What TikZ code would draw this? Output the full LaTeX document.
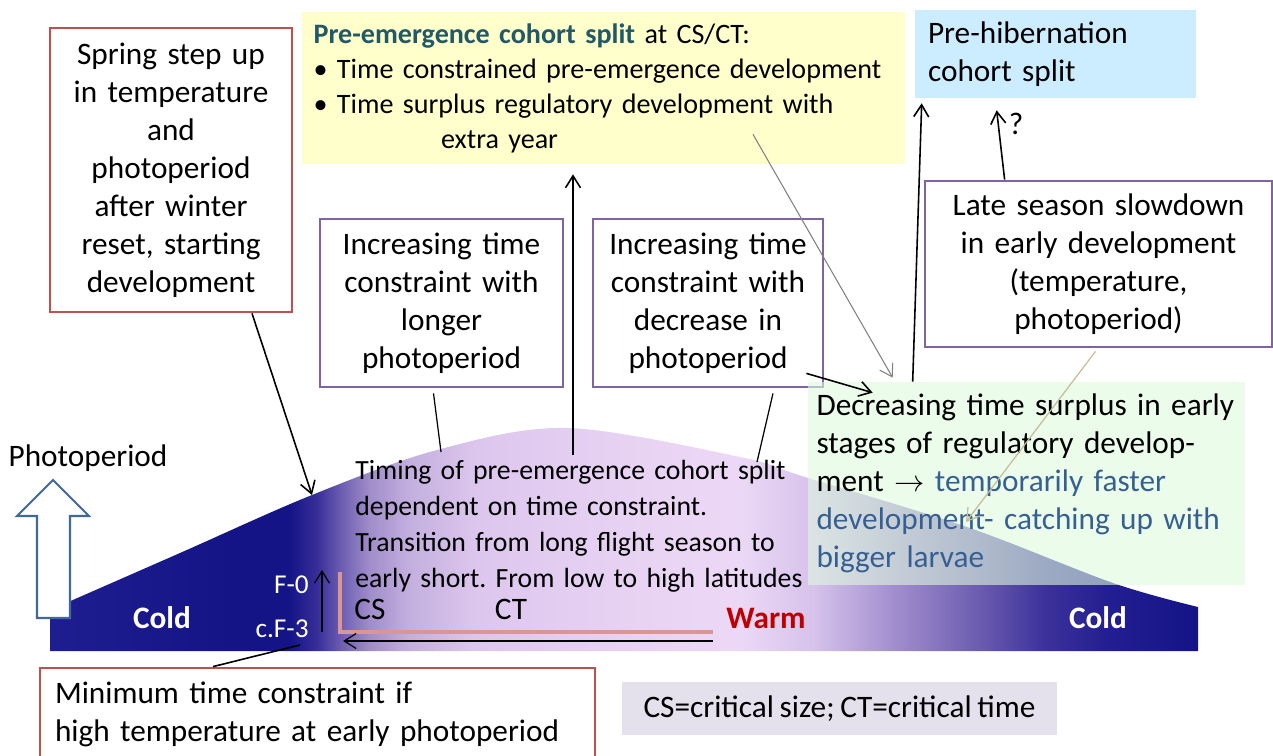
\documentclass[tikz,border=0pt]{standalone}
\usepackage{fontspec}
\setmainfont{Carlito}[WordSpace=0.8]
\usetikzlibrary{arrows.meta}
\frenchspacing

\definecolor{boxred}{RGB}{192,80,77}
\definecolor{boxviolet}{RGB}{128,100,162}
\definecolor{fillyellow}{RGB}{255,255,204}
\definecolor{fillblue}{RGB}{204,236,255}
\definecolor{fillgreen}{RGB}{222,250,222}
\definecolor{fillgray}{RGB}{228,224,236}
\definecolor{tealtext}{RGB}{33,89,104}
\definecolor{bluetext}{RGB}{55,96,146}
\definecolor{warmred}{RGB}{192,0,0}
\definecolor{salmon}{RGB}{218,150,148}
\definecolor{olivetan}{RGB}{196,189,151}
\definecolor{arrowblue}{RGB}{65,105,150}
% season colours, cold -> warm -> cold
\definecolor{night}{RGB}{20,20,135}
\definecolor{nightedge}{RGB}{30,30,145}
\definecolor{deepdusk}{RGB}{55,45,152}
\definecolor{dusk}{RGB}{105,90,175}
\definecolor{twilight}{RGB}{160,140,202}
\definecolor{haze}{RGB}{195,175,222}
\definecolor{lilac}{RGB}{220,198,237}
\definecolor{blush}{RGB}{232,210,243}
\definecolor{summer}{RGB}{236,216,246}
\definecolor{fade}{RGB}{215,195,235}
\definecolor{late}{RGB}{160,140,205}
\definecolor{evening}{RGB}{60,50,155}
\definecolor{dark}{RGB}{35,30,145}

\pgfdeclarehorizontalshading{season}{100bp}{color(0bp)=(nightedge); color(25bp)=(nightedge);
  color(33bp)=(night); color(35.4bp)=(night); color(36.6bp)=(deepdusk); color(37.6bp)=(dusk);
  color(38.9bp)=(twilight); color(40.6bp)=(haze); color(43.5bp)=(lilac); color(50bp)=(blush);
  color(55bp)=(summer); color(58.2bp)=(fade); color(61.9bp)=(late); color(65.6bp)=(dusk);
  color(68.3bp)=(evening); color(71bp)=(dark); color(75bp)=(night); color(100bp)=(night)}

\begin{document}
\begin{tikzpicture}[x=0.02cm, y=-0.02cm, font=\fontsize{17.8}{21.6}\selectfont]
\useasboundingbox (0,0) rectangle (1273,756);
\clip (0,0) rectangle (1273,756);

\tikzset{conn/.style={line width=0.9pt, -{Straight Barb[length=2.4mm, width=3mm]}},
         tie/.style={line width=0.7pt},
         redbox/.style={draw=boxred, line width=1.6pt, fill=white, inner sep=0pt},
         violetbox/.style={draw=boxviolet, line width=1.6pt, fill=white, inner sep=0pt, align=center},
         tintbox/.style={fill=#1, inner sep=0pt, align=left},
         coldlbl/.style={text=white, font=\fontsize{17.8}{21.6}\selectfont\bfseries}}

% ---- season curve (photoperiod), shaded cold-warm-cold
\shade[shading=season] (50,651) -- plot[smooth, tension=0.55] coordinates {(50,610) (180,553) (312,495)
  (437,450) (567,428) (740,457) (805,477) (967,527) (1113,583) (1198,607)} -- (1198,651) -- cycle;

% ---- photoperiod arrow
\draw[arrowblue, line width=1.2pt, fill=white] (37,618) -- (37,516) -- (17,516) -- (53,480)
  -- (89,516) -- (70,516) -- (70,618) -- cycle;
\node (photolbl) at (88,458) {Photoperiod};

% ---- labels on the curve
\node[coldlbl] (coldL) at (162,618) {Cold};
\node[coldlbl] (coldR) at (1098,618) {Cold};
\node[text=warmred, font=\fontsize{17.8}{21.6}\selectfont\bfseries] (warm) at (766,618) {Warm};
\node (cs) at (370,609) {CS};
\node (ct) at (511,609) {CT};
\node[anchor=east, inner sep=0pt, text=white, font=\fontsize{15.5}{18}\selectfont] (f0) at (309,585) {F-0};
\node[anchor=east, inner sep=0pt, text=white, font=\fontsize{15.5}{18}\selectfont] (f3) at (309,629) {c.F-3};
\node[anchor=west, inner sep=0pt, text width=9.2cm, align=left, font=\fontsize{15.8}{20.4}\selectfont] (timing) at (355,526)
  {Timing of pre-emergence cohort split\\dependent on time constraint.\\Transition from long flight season to\\early short. From low to high latitudes};

% CS/CT bracket and time axes
\draw[salmon, line width=2.8pt] (340,572) -- (340,632) -- (713,632);
\coordinate (ctend) at (713,641);
\coordinate (csend) at (343,641);
\draw[conn, line width=0.7pt] (ctend) -- (csend);
\coordinate (f3pt) at (322,632);
\coordinate (f0pt) at (322,570);
\draw[conn, line width=0.7pt] (f3pt) -- (f0pt);

% ---- boxes
\node[redbox, minimum width=4.84cm, minimum height=5.68cm, text width=4.6cm, align=center] (spring) at (171,170)
  {Spring step up\\in temperature\\and\\photoperiod\\after winter\\reset, starting\\development};
\node[tintbox=fillyellow, minimum width=12.06cm, minimum height=3.04cm, text width=11.6cm, font=\fontsize{16}{19.9}\selectfont] (preem) at (603.5,88)
  {\textcolor{tealtext}{\textbf{Pre-emergence cohort split}} at CS/CT:\\
   \textbullet\ Time constrained pre-emergence development\\
   \textbullet\ Time surplus regulatory development with\\
   \hspace*{2.55cm}extra year};
\node[tintbox=fillblue, minimum width=5.62cm, minimum height=1.76cm, text width=5.1cm] (prehib) at (1055.5,54)
  {Pre-hibernation\\cohort split};
\node[violetbox, minimum width=4.86cm, minimum height=3.36cm, text width=4.6cm] (longer) at (441.5,303)
  {Increasing time\\constraint with\\longer\\photoperiod};
\node[violetbox, minimum width=4.6cm, minimum height=3.36cm, text width=4.4cm] (decrease) at (708,303)
  {Increasing time\\constraint with\\decrease in\\photoperiod};
\node[violetbox, minimum width=6.94cm, minimum height=3.32cm, text width=6.6cm] (late) at (1098.5,264)
  {Late season slowdown\\in early development\\(temperature,\\photoperiod)};
\node[tintbox=fillgreen, fill opacity=0.6, text opacity=1, minimum width=8.74cm, minimum height=4.06cm, text width=8.4cm] (surplus) at (1026.5,483.5)
  {Decreasing time surplus in early\\stages of regulatory develop-\\ment $\rightarrow$ {\color{bluetext}temporarily faster\\development- catching up with\\bigger larvae}};
\node[redbox, minimum width=11.1cm, minimum height=1.84cm, text width=10.5cm, align=left] (mintc) at (317.5,714)
  {Minimum time constraint if\\high temperature at early photoperiod};
\node[tintbox=fillgray, minimum width=8.7cm, minimum height=1.06cm, align=center] (legend) at (839.5,708.5)
  {CS=critical size; CT=critical time};

% ---- connectors
\coordinate (pk) at (573,455);
\coordinate (springtip) at (312,495);
\coordinate (longtip) at (441,452);
\coordinate (dectip) at (757,462);
\coordinate (olivetip) at (966,522);
\coordinate (minfoot) at (300,645);
\draw[conn] ([xshift=1.62cm]spring.south) -- (springtip);
\draw[conn, shorten >=0.2cm] (pk) -- (pk |- preem.south);
\draw[tie] ([xshift=-0.16cm,yshift=-0.1cm]longer.south) -- (longtip);
\draw[tie] ([xshift=1.3cm,yshift=-0.1cm]decrease.south) -- (dectip);
\draw[conn] ([xshift=-0.36cm,yshift=0.3cm]decrease.south east) -- ([xshift=1.3cm,yshift=-0.22cm]surplus.north west);
\draw[conn, gray, line width=0.6pt] ([xshift=2.99cm,yshift=0.6cm]preem.south) -- ([xshift=1.7cm,yshift=0.08cm]surplus.north west);
\draw[conn] ([xshift=2.1cm]surplus.north west) -- ([xshift=0.14cm,yshift=-0.1cm]prehib.south west);
\draw[conn] ([xshift=1.62cm]late.north west) -- ([xshift=1.64cm,yshift=-0.24cm]prehib.south west);
\node (qmark) at (1016,124) {?};
\draw[conn, olivetan, line width=0.7pt] ([xshift=-0.06cm,yshift=-0.06cm]late.south) -- (olivetip);
\draw[line width=0.9pt] ([xshift=-2.09cm]mintc.north) -- (minfoot);
\end{tikzpicture}
\end{document}
